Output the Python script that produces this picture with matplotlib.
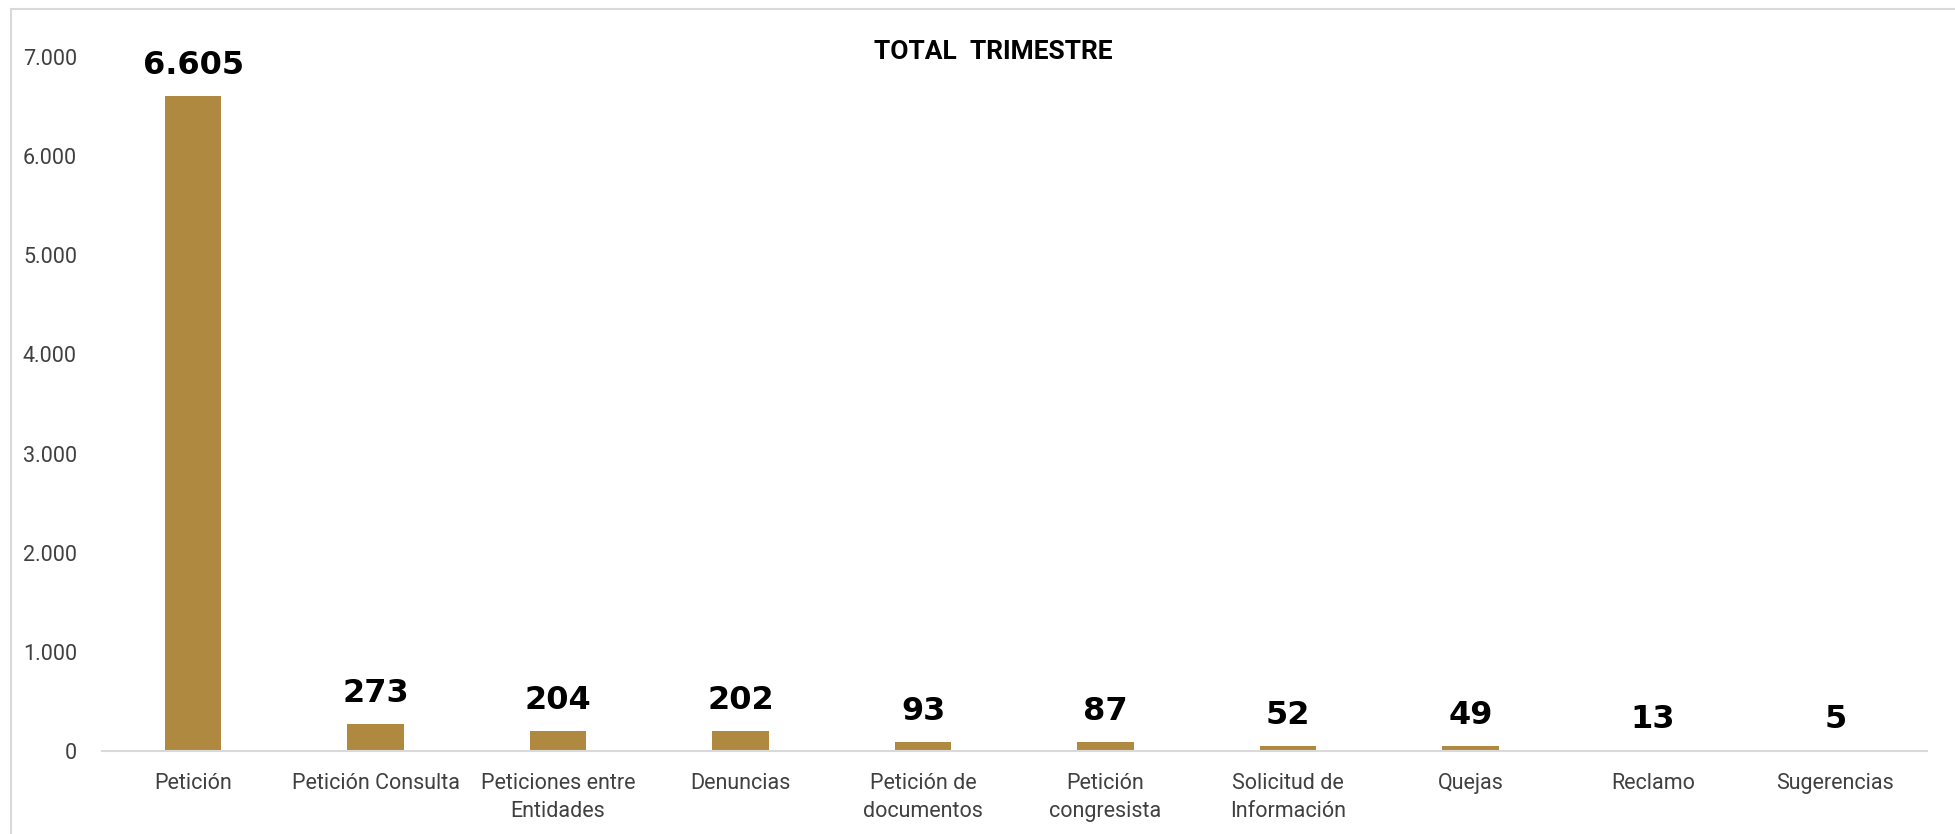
import matplotlib.pyplot as plt
from matplotlib.patches import Rectangle

categorias = ['Petición', 'Petición Consulta', 'Peticiones entre\nEntidades', 'Denuncias',
              'Petición de\ndocumentos', 'Petición\ncongresista', 'Solicitud de\nInformación',
              'Quejas', 'Reclamo', 'Sugerencias']
valores = [6605, 273, 204, 202, 93, 87, 52, 49, 13, 5]
y_ticks = [0, 1000, 2000, 3000, 4000, 5000, 6000, 7000]

COLOR_BARRA = '#B08941'
narrow = ['Roboto', 'DejaVu Sans']


def miles(v):
	return f"{v:,}".replace(',', '.')


def main():
	fig = plt.figure(figsize=(19.56, 8.34), dpi=100)
	ax = fig.add_axes([0.0521, 0.0995, 0.9329, 0.8322])

	x = range(len(categorias))
	ax.bar(x, valores, width=0.31, color=COLOR_BARRA, zorder=2)

	for i, v in enumerate(valores):
		ax.annotate(miles(v), (i, v), xytext=(0, 22), textcoords='offset points',
			ha='center', va='center', fontsize=23, fontweight='bold',
			family='DejaVu Sans', color='black')

	ax.set_xlim(-0.5, len(categorias) - 0.5)
	ax.set_ylim(0, 7000)
	ax.set_yticks(y_ticks)
	ax.set_yticklabels([miles(t) for t in y_ticks], family=narrow, fontsize=15.5, color='#404040')
	ax.set_xticks(list(x))
	ax.set_xticklabels(categorias, family=narrow, fontsize=15.5, color='#404040', linespacing=1.45)
	ax.tick_params(axis='both', length=0)
	ax.tick_params(axis='x', pad=16)
	ax.tick_params(axis='y', pad=18)

	for side in ['top', 'right', 'left']:
		ax.spines[side].set_visible(False)
	ax.spines['bottom'].set_color('#D9D9D9')
	ax.spines['bottom'].set_linewidth(1.5)

	fig.text(0.508, 0.938, 'TOTAL  TRIMESTRE', ha='center', va='center',
		fontsize=19, fontweight='bold', family=narrow, color='black')

	# chart area outline (runs off the right and bottom edges)
	fig.patches.append(Rectangle((11 / 1956, -0.05), 1.1, 1 - 9 / 834 + 0.05,
		transform=fig.transFigure, fill=False, edgecolor='#D9D9D9', linewidth=1.5))

	fig.savefig('out.png', dpi=100)


if __name__ == '__main__':
	main()
